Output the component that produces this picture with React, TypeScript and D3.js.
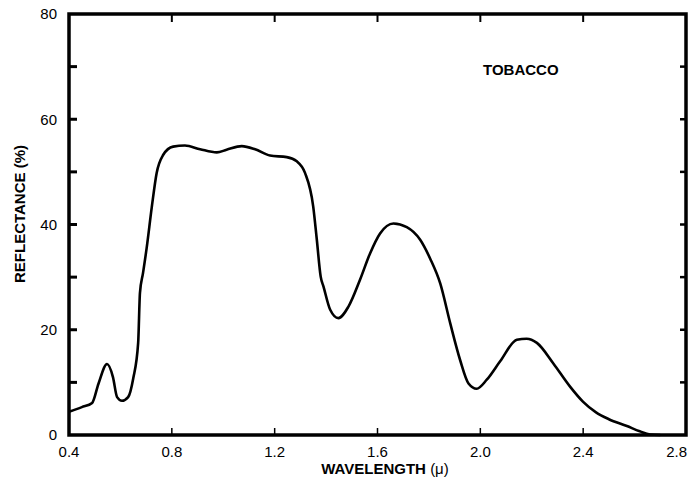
import { useEffect, useRef } from 'react';
import * as d3 from 'd3';

const wavelength = [
  0.4, 0.45, 0.49, 0.515, 0.548, 0.571, 0.587, 0.606, 0.63, 0.65, 0.669, 0.676, 0.688,
  0.702, 0.722, 0.741, 0.766, 0.805, 0.851, 0.91, 0.975, 1.013, 1.072, 1.124, 1.182,
  1.247, 1.286, 1.318, 1.35, 1.364, 1.379, 1.39, 1.416, 1.448, 1.487, 1.532, 1.571,
  1.61, 1.662, 1.714, 1.766, 1.805, 1.844, 1.883, 1.921, 1.954, 1.986, 2.025, 2.077,
  2.142, 2.18, 2.22, 2.284, 2.349, 2.4, 2.45, 2.5, 2.57, 2.62, 2.66, 2.7,
];
const reflectance = [
  4.4, 5.3, 6.1, 9.8, 13.5, 11, 7.2, 6.5, 7.2, 10.8, 17.5, 27, 30.8,
  35.5, 43.3, 49.8, 53.2, 54.8, 55.0, 54.3, 53.7, 54.2, 54.9, 54.3, 53.1,
  52.8, 52.0, 49.8, 43.4, 37.1, 30.1, 28.2, 23.8, 22.2, 24.4, 29.5, 34.5,
  38.3, 40.2, 39.5, 37.1, 33.5, 28.8, 21.2, 14.3, 9.8, 8.8, 10.5, 14.0,
  18.1, 18.3, 17.5, 13.6, 9.2, 6.3, 4.3, 3.0, 1.7, 0.7, 0.1, 0,
];
const xTicks = [0.4, 0.8, 1.2, 1.6, 2.0, 2.4, 2.8];
const yTicks = [0, 20, 40, 60, 80];
const yMinorTicks = [10, 30, 50, 70];

const App = () => {
  const ref = useRef<SVGSVGElement>(null);

  useEffect(() => {
    const width = 688;
    const height = 480;
    const left = 69;
    const right = 686;
    const top = 14;
    const bottom = 435;
    const font = 'Liberation Sans, Arial, Helvetica, sans-serif';

    const x = d3.scaleLinear().domain([0.4, 2.8]).range([left, right]);
    const y = d3.scaleLinear().domain([0, 80]).range([bottom, top]);

    const svg = d3.select(ref.current)
      .attr('width', width)
      .attr('height', height);
    svg.selectAll('*').remove();

    svg.append('rect').attr('width', width).attr('height', height).attr('fill', '#fff');

    // inward ticks
    const g = svg.append('g').attr('stroke', '#000');
    yTicks.concat(yMinorTicks).forEach((t) => {
      if (t === 0 || t === 80) return;
      g.append('line').attr('x1', left).attr('x2', left + 8)
        .attr('y1', y(t)).attr('y2', y(t)).attr('stroke-width', 3);
      g.append('line').attr('x1', right).attr('x2', right - 6)
        .attr('y1', y(t)).attr('y2', y(t)).attr('stroke-width', 2.5);
    });
    xTicks.slice(1, -1).forEach((t) => {
      g.append('line').attr('x1', x(t)).attr('x2', x(t))
        .attr('y1', bottom).attr('y2', bottom - 7).attr('stroke-width', 1.5);
      g.append('line').attr('x1', x(t)).attr('x2', x(t))
        .attr('y1', top).attr('y2', top + 8).attr('stroke-width', 2);
    });

    // frame
    svg.append('rect')
      .attr('x', left).attr('y', top)
      .attr('width', right - left).attr('height', bottom - top)
      .attr('fill', 'none').attr('stroke', '#000').attr('stroke-width', 3.5);

    // tick labels (last one kept inside the page)
    svg.append('g').selectAll('text').data(xTicks).enter().append('text')
      .attr('x', (d, i) => (i === xTicks.length - 1 ? width - 1 : x(d)))
      .attr('y', 457)
      .attr('text-anchor', (d, i) => (i === xTicks.length - 1 ? 'end' : 'middle'))
      .attr('font-family', font).attr('font-size', 15)
      .text((d) => d.toFixed(1));

    svg.append('g').selectAll('text').data(yTicks).enter().append('text')
      .attr('x', 57).attr('y', (d) => y(d))
      .attr('dy', '0.35em')
      .attr('text-anchor', 'end')
      .attr('font-family', font).attr('font-size', 15)
      .text((d) => d);

    // axis titles
    const xt = svg.append('text')
      .attr('x', 385).attr('y', 474)
      .attr('text-anchor', 'middle')
      .attr('font-family', font).attr('font-size', 15);
    xt.append('tspan').attr('font-weight', 'bold').text('WAVELENGTH ');
    xt.append('tspan').text('(μ)');

    svg.append('text')
      .attr('transform', `translate(25, 214) rotate(-90)`)
      .attr('text-anchor', 'middle')
      .attr('font-family', font).attr('font-size', 15).attr('font-weight', 'bold')
      .text('REFLECTANCE (%)');

    svg.append('text')
      .attr('x', 483).attr('y', 75)
      .attr('font-family', font).attr('font-size', 15).attr('font-weight', 'bold')
      .text('TOBACCO');

    // curve
    const line = d3.line<number>()
      .x((d, i) => x(wavelength[i]))
      .y((d) => y(d))
      .curve(d3.curveMonotoneX);

    svg.append('path')
      .datum(reflectance)
      .attr('d', line)
      .attr('fill', 'none')
      .attr('stroke', '#000')
      .attr('stroke-width', 2.6)
      .attr('stroke-linejoin', 'round');
  }, []);

  return <svg ref={ref} style={{ position: 'absolute', left: 0, top: 0 }}></svg>;
};

export default App;
